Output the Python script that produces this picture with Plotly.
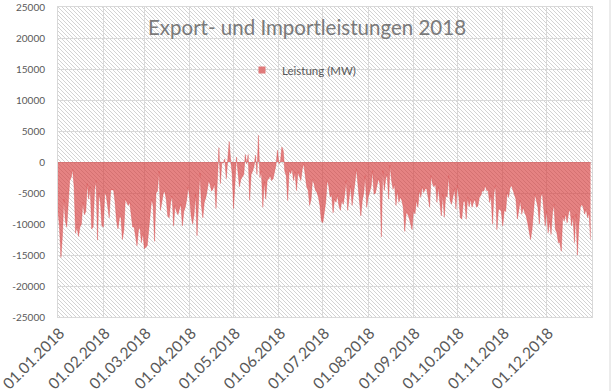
import base64
import pandas as pd
import plotly.graph_objects as go

# ---- data (MW, daily values) ----
jan = [-7900, -10500, -15400, -12000, -6000, -9500, -10500, -6000, -3000, -2500,
       -1200, -4000, -11500, -10500, -12000, -10500, -10000, -6500, -8500, -8000,
       -3500, -6000, -4000, -10800, -10500, -4500, -3000, -12600, -5000, -6500,
       -10300]
feb = [-10500, -4800, -5500, -7000, -9000, -4500, -4500, -4500, -6500, -9500,
       -10800, -9000, -8800, -12500, -11000, -6000, -6500, -7000, -6500, -8500,
       -10500, -10500, -12000, -13500, -11000, -10500, -13000, -11500]
mar = [-14000, -13800, -13500, -11000, -8700, -6000, -7000, -12800, -5000, -4700,
       -1500, -7800, -6500, -5000, -4800, -6000, -8700, -9000, -6500, -5500,
       -10300, -7000, -8000, -8500, -7600, -6800, -10300, -8000, -7300, -6000,
       -4000]
apr = [-5800, -8700, -10000, -8500, -5200, -11900, -7600, -1800, -7000, -9000,
       -6500, -5800, -4500, -3000, -3700, -4700, -4300, -3500, -7500, -1500,
       2300, -3500, 0, -200, 500, -2700, 0, 3300, 300, -1800]
may = [-7500, -2200, 800, -1600, -4000, -2800, -2400, -2000, 1200, -300,
       1200, -6200, -2000, -1500, -700, 1100, -2000, 4300, -2500, -1500,
       -7300, -3200, -6000, -3000, -2700, -2200, -3000, -2700, -1600, -500,
       1900]
jun = [-300, 0, 2400, 1800, -1500, -2200, -6200, -1400, -1900, -1100,
       -3000, -1600, -4600, -1600, -2200, -3000, -1100, -300, -2200, -4000,
       -4600, -7000, -6000, -2800, -3500, -4600, -4900, -5700, -7000, -9500]
jul = [-9800, -8000, -6500, -3000, -3800, -5700, -5200, -8200, -6000, -6500,
       -5400, -7000, -7800, -6200, -6800, -5200, -3000, -7800, -6200, -3800,
       -7000, -4600, -3300, -1100, -3500, -5700, -8700, -6200, -5000, -2200,
       -7300]
aug = [-5700, -4600, -4000, -1400, -5200, -5000, -4000, -2700, -3500, -12100,
       -1400, -4600, -2700, -2000, -6000, -500, -3000, -4400, -3600, -7000,
       -4600, -6500, -5700, -6200, -7300, -11200, -8200, -8400, -9000, -10000,
       -10900]
sep = [-7800, -8400, -6200, -7300, -4600, -5700, -4000, -4900, -4300, -4300,
       -5700, -7300, -2200, -3500, -4000, -3500, -6500, -4000, -6500, -8700,
       -5200, -8900, -5400, -5700, -2200, -6200, -6800, -5400, -4300, -7600]
oct_ = [-3800, -5700, -9000, -9200, -6500, -6200, -9200, -5700, -7200, -6000,
        -7300, -6500, -6000, -7300, -7100, -5700, -5400, -4600, -4700, -3800,
        -4600, -4600, -6500, -5400, -10000, -5000, -3800, -10900, -7800, -7600,
        -8000]
nov = [-10300, -7800, -8000, -4900, -5700, -4100, -3800, -4600, -5400, -6000,
       -9200, -7800, -6200, -8400, -7300, -8200, -8700, -9800, -11400, -12500,
       -10900, -8400, -5200, -6200, -7300, -10000, -5700, -4900, -7300, -10300]
dec = [-7900, -11400, -9500, -11700, -8200, -6800, -10900, -11400, -13000, -13000,
       -14400, -8700, -9500, -8400, -9800, -8200, -7600, -10300, -8700, -13000,
       -8400, -15000, -10300, -7300, -6800, -7300, -8400, -7600, -9000, -8200,
       -12500]

series_name = "Leistung (MW)"
title_text = "Export- und Importleistungen 2018"
tick_labels = ["01.01.2018", "01.02.2018", "01.03.2018", "01.04.2018",
               "01.05.2018", "01.06.2018", "01.07.2018", "01.08.2018",
               "01.09.2018", "01.10.2018", "01.11.2018", "01.12.2018"]
y_ticks = [-25000, -20000, -15000, -10000, -5000, 0, 5000, 10000, 15000, 20000, 25000]
y_labels = [str(v) for v in y_ticks]

values = jan + feb + mar + apr + may + jun + jul + aug + sep + oct_ + nov + dec
dates = pd.date_range("2018-01-01", periods=len(values), freq="D")
tick_dates = pd.to_datetime(tick_labels, format="%d.%m.%Y")

FONT = "Lato"
GRID = "#d9d9d9"
TXT = "#595959"
RED_FILL = "rgba(214,60,60,0.64)"
RED_SOLID = "#e07a7a"

# hatched plot-area background (Excel "wide downward diagonal")
svg = ('<svg xmlns="http://www.w3.org/2000/svg" width="534" height="310" '
       'viewBox="0 0 534 310" preserveAspectRatio="none"><defs>'
       '<pattern id="h" width="4" height="4" patternUnits="userSpaceOnUse">'
       '<path d="M-1,-1 L5,5 M3,-1 L5,1 M-1,3 L1,5" stroke="#d3d3d3" stroke-width="1"/>'
       '</pattern></defs><rect width="534" height="310" fill="#ffffff"/>'
       '<rect width="534" height="310" fill="url(#h)"/></svg>')
svg_uri = "data:image/svg+xml;base64," + base64.b64encode(svg.encode()).decode()

fig = go.Figure()
fig.add_trace(go.Scatter(
    x=dates, y=values, mode="lines", fill="tozeroy",
    fillcolor=RED_FILL, line=dict(color=RED_FILL, width=0.5),
    showlegend=False, hoverinfo="x+y"))
fig.add_trace(go.Scatter(
    x=[None], y=[None], mode="markers", name=series_name,
    marker=dict(symbol="square", size=7, color=RED_SOLID)))

fig.update_layout(
    width=614, height=391,
    margin=dict(l=58, r=22, t=7, b=74, autoexpand=False),
    paper_bgcolor="white", plot_bgcolor="rgba(0,0,0,0)",
    font=dict(family=FONT, color=TXT),
    title=dict(text=title_text, x=0.5, xref="container", xanchor="center",
               y=1 - 28 / 391, yref="container", yanchor="middle",
               font=dict(family=FONT, size=20.5, color="#7a7a7a")),
    legend=dict(orientation="h", x=(242 - 58) / 534, xanchor="left",
                y=(317 - 70) / 310, yanchor="middle",
                bgcolor="rgba(0,0,0,0)", font=dict(size=11.5, color=TXT),
                itemwidth=30),
    images=[dict(source=svg_uri, xref="paper", yref="paper", x=0, y=1,
                 sizex=1, sizey=1, xanchor="left", yanchor="top",
                 sizing="stretch", layer="below")],
    shapes=[dict(type="line", xref="paper", yref="paper",
                 x0=(610 - 58) / 534, x1=(610 - 58) / 534, y0=-0.4, y1=1.1,
                 line=dict(color=GRID, width=1))],
)
fig.update_xaxes(
    type="date", range=["2018-01-01", "2019-01-01"], automargin=False,
    tickmode="array", tickvals=tick_dates, ticktext=tick_labels,
    tickangle=-45, tickfont=dict(size=15.5, color=TXT),
    ticklabeloverflow="allow", ticklabelshift=2,
    showgrid=True, gridcolor=GRID, gridwidth=1,
    showline=True, linecolor=GRID, mirror=True, ticks="", zeroline=False)
fig.update_yaxes(
    range=[-25000, 25000], tickmode="array", tickvals=y_ticks, ticktext=y_labels,
    automargin=False,
    tickfont=dict(size=10, color=TXT), ticklabelstandoff=10,
    showgrid=True, gridcolor=GRID, gridwidth=1,
    showline=True, linecolor=GRID, mirror=True, ticks="",
    zeroline=True, zerolinecolor=GRID, zerolinewidth=1)

fig.write_html("out.html", config={"displayModeBar": False},
               post_script="document.body.style.margin='0';document.body.style.overflow='hidden';")
